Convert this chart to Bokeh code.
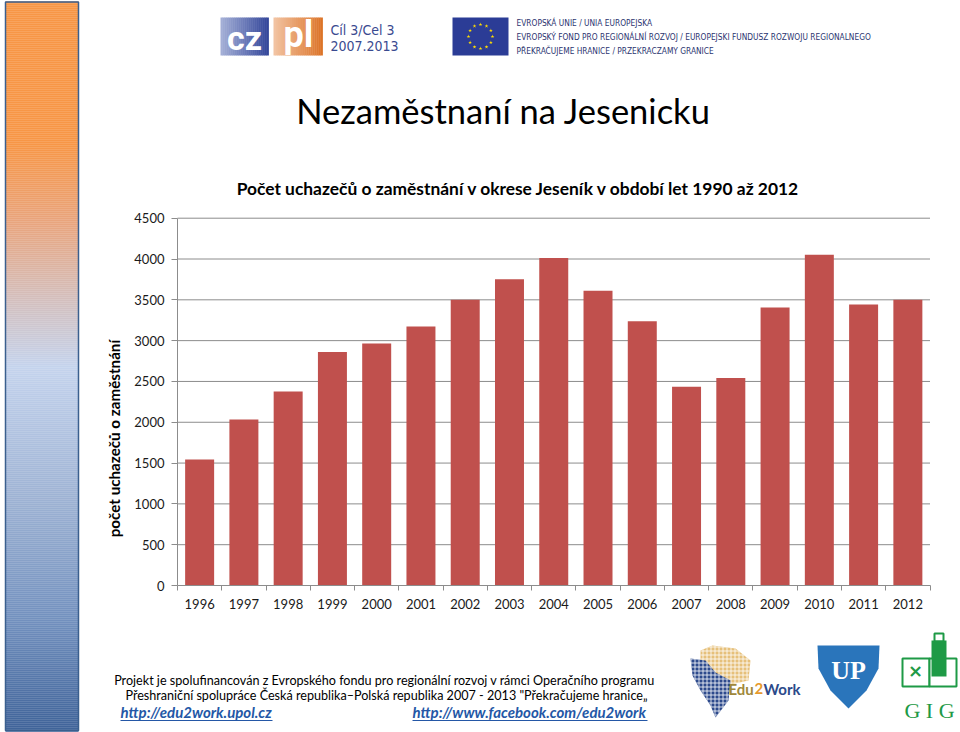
import math
from bokeh.plotting import figure
from bokeh.models import Range1d, LinearAxis, FixedTicker, Label
from bokeh.embed import file_html
from bokeh.resources import INLINE

# ---------------- data ----------------
YEARS = [1996, 1997, 1998, 1999, 2000, 2001, 2002, 2003, 2004,
         2005, 2006, 2007, 2008, 2009, 2010, 2011, 2012]
COUNTS = [1545, 2035, 2378, 2860, 2966, 3173, 3500, 3753, 4012,
          3611, 3237, 2435, 2542, 3405, 4053, 3442, 3500]
Y_TICKS = [0, 500, 1000, 1500, 2000, 2500, 3000, 3500, 4000, 4500]

TITLE = "Nezaměstnaní na Jesenicku"
CHART_TITLE = "Počet uchazečů o zaměstnání v okrese Jeseník v období let 1990 až 2012"
Y_LABEL = "počet uchazečů o zaměstnání"
FOOTER_1 = "Projekt je spolufinancován z Evropského fondu pro regionální rozvoj v rámci Operačního programu"
FOOTER_2 = "Přeshraniční spolupráce Česká republika–Polská republika 2007 - 2013 \"Překračujeme hranice„"
LINK_1 = "http://edu2work.upol.cz"
LINK_2 = "http://www.facebook.com/edu2work"
EU_LINES = ["EVROPSKÁ UNIE / UNIA EUROPEJSKA",
            "EVROPSKÝ FOND PRO REGIONÁLNÍ ROZVOJ / EUROPEJSKI FUNDUSZ ROZWOJU REGIONALNEGO",
            "PŘEKRAČUJEME HRANICE / PRZEKRACZAMY GRANICE"]

# ---------------- layout (page pixel positions) ----------------
W, H = 960, 732
X0, X1, Y0, Y1 = 0, 960, 0, 732
PL, PR, PB, PT = 177.0, 929.5, 585.0, 217.7
VMAX = 4500.0

ppy = (PR - PL) / len(YEARS)
yr_start = YEARS[0] - 0.5 - (PL - X0) / ppy
yr_end = YEARS[-1] + 0.5 + (X1 - PR) / ppy
ppv = (PB - PT) / VMAX
val_start = -(Y1 - PB) / ppv
val_end = VMAX + (PT - Y0) / ppv

FONT = "Lato"
COND = "DejaVu Sans Condensed, DejaVu Sans"
GRID = "#8C8C8C"

p = figure(width=W, height=H, x_range=Range1d(X0, X1), y_range=Range1d(Y1, Y0),
           x_axis_type=None, y_axis_type=None, min_border=0,
           min_border_left=0, min_border_right=0, min_border_top=0, min_border_bottom=0,
           toolbar_location=None, output_backend="svg", outline_line_color=None,
           background_fill_color="white", border_fill_color="white")
p.grid.visible = False
p.extra_x_ranges = {"yr": Range1d(yr_start, yr_end)}
p.extra_y_ranges = {"val": Range1d(val_start, val_end)}


def hex2rgb(h):
    h = h.lstrip("#")
    return tuple(int(h[i:i + 2], 16) for i in (0, 2, 4))


def interp(stops, t):
    for (a, ca), (b, cb) in zip(stops[:-1], stops[1:]):
        if a <= t <= b:
            f = 0 if b == a else (t - a) / (b - a)
            r1, g1, b1 = hex2rgb(ca)
            r2, g2, b2 = hex2rgb(cb)
            return "#%02x%02x%02x" % (round(r1 + (r2 - r1) * f), round(g1 + (g2 - g1) * f), round(b1 + (b2 - b1) * f))
    return stops[-1][1]


# ---------------- left sidebar gradient ----------------
side_stops = [(0, "#F79646"), (143, "#F79646"), (220, "#E9A47C"), (300, "#D3BFBE"),
              (367, "#C4D3ED"), (500, "#9DB2D3"), (620, "#7290BE"), (732, "#3E6298")]
tops, bots, cols = [], [], []
yy = 1.0
while yy < 730:
    tops.append(yy)
    bots.append(yy + 2.2)
    cols.append(interp(side_stops, yy + 1))
    yy += 2
p.quad(left=5, right=78, top=tops, bottom=bots, fill_color=cols, line_color=None)
p.quad(left=5, right=78, top=1.5, bottom=730, fill_color=None, line_color="#3A5F8E", line_width=1.5)

# ---------------- header logos ----------------
def hgrad(left, right, top, bottom, c1, c2, n=24):
    step = (right - left) / n
    ls = [left + i * step for i in range(n)]
    rs = [l + step + 0.4 for l in ls]
    cs = [interp([(0, c1), (1, c2)], i / (n - 1)) for i in range(n)]
    p.quad(left=ls, right=rs, top=top, bottom=bottom, fill_color=cs, line_color=None)

hgrad(220, 268, 17, 55, "#A3AED6", "#34479A")
hgrad(273, 322, 17, 55, "#F2C3A2", "#DC7428")
p.add_layout(Label(x=244, y=37, text="cz", text_align="center", text_baseline="middle",
                   text_font="Roboto", text_font_style="bold", text_font_size="34px", text_color="white"))
p.add_layout(Label(x=298, y=34, text="pl", text_align="center", text_baseline="middle",
                   text_font="Roboto", text_font_style="bold", text_font_size="36px", text_color="white"))
p.add_layout(Label(x=330, y=29, text="Cíl 3/Cel 3", text_align="left", text_baseline="middle",
                   text_font=COND, text_font_size="14px", text_color="#3A4A90"))
p.add_layout(Label(x=330, y=45, text="2007.2013", text_align="left", text_baseline="middle",
                   text_font=COND, text_font_size="14px", text_color="#3A4A90"))

# EU flag
p.quad(left=452, right=508, top=17, bottom=55, fill_color="#2B3C96", line_color=None)
sx = [480 + 12 * math.cos(2 * math.pi * k / 12) for k in range(12)]
sy = [36 + 12 * math.sin(2 * math.pi * k / 12) for k in range(12)]
p.scatter(sx, sy, marker="star", size=4, fill_color="#FFDD00", line_color=None)
for i, t in enumerate(EU_LINES):
    p.add_layout(Label(x=516, y=22 + 14 * i, text=t, text_align="left", text_baseline="middle",
                       text_font=COND, text_font_size="8.3px", text_color="#2B3470"))

# ---------------- titles ----------------
p.add_layout(Label(x=503, y=110, text=TITLE, text_align="center", text_baseline="middle",
                   text_font=FONT, text_font_size="34.5px", text_color="#000000"))
p.add_layout(Label(x=518, y=188, text=CHART_TITLE, text_align="center", text_baseline="middle",
                   text_font=FONT, text_font_style="bold", text_font_size="17.4px", text_color="#000000"))
p.add_layout(Label(x=113, y=438, text=Y_LABEL, angle=math.pi / 2, text_align="center",
                   text_baseline="middle", text_font=FONT, text_font_style="bold",
                   text_font_size="15.2px", text_color="#000000"))

# ---------------- chart ----------------
gt = Y_TICKS[1:]
p.segment(x0=[PL] * len(gt), x1=[PR] * len(gt), y0=gt, y1=gt, y_range_name="val",
          line_color=GRID, line_width=1)
p.vbar(x=YEARS, top=COUNTS, bottom=0, width=0.655, x_range_name="yr", y_range_name="val",
       fill_color="#C0504D", line_color=None)

yax = LinearAxis(y_range_name="val", fixed_location=PL, ticker=FixedTicker(ticks=Y_TICKS),
                 bounds=(0, VMAX), axis_line_color=GRID, major_tick_line_color=GRID,
                 major_tick_out=6, major_tick_in=0, minor_tick_line_color=None,
                 major_label_standoff=7, major_label_text_font=FONT,
                 major_label_text_font_size="13px", major_label_text_color="#1A1A1A")
p.add_layout(yax, "left")

bounds_ticks = [y - 0.5 for y in YEARS] + [YEARS[-1] + 0.5]
xax = LinearAxis(x_range_name="yr", y_range_name="val", fixed_location=0,
                 ticker=FixedTicker(ticks=YEARS, minor_ticks=bounds_ticks),
                 bounds=(YEARS[0] - 0.5, YEARS[-1] + 0.5), axis_line_color=GRID,
                 major_tick_line_color=None, major_tick_out=0, major_tick_in=0,
                 minor_tick_line_color=GRID, minor_tick_out=5, minor_tick_in=0,
                 major_label_standoff=8, major_label_text_font=FONT,
                 major_label_text_font_size="13px", major_label_text_color="#1A1A1A")
p.add_layout(xax, "below")

# ---------------- footer ----------------
p.add_layout(Label(x=384, y=680, text=FOOTER_1, text_align="center", text_baseline="middle",
                   text_font=FONT, text_font_size="12.6px", text_color="#000000"))
p.add_layout(Label(x=386, y=695, text=FOOTER_2, text_align="center", text_baseline="middle",
                   text_font=FONT, text_font_size="12.6px", text_color="#000000"))
LINK = "#2457A6"
p.add_layout(Label(x=120, y=711, text=LINK_1, text_align="left", text_baseline="middle",
                   text_font=FONT, text_font_style="bold italic", text_font_size="15px", text_color=LINK))
p.add_layout(Label(x=412, y=711, text=LINK_2, text_align="left", text_baseline="middle",
                   text_font=FONT, text_font_style="bold italic", text_font_size="15px", text_color=LINK))
p.segment(x0=[120, 412], x1=[272, 647], y0=[720, 720], y1=[720, 720], line_color=LINK, line_width=1)

# Edu2Work logo
p.patch([700, 712, 735, 750, 748, 730, 712, 700], [650, 645, 648, 660, 680, 684, 676, 665],
        fill_color="#E6C07A", line_color=None, hatch_pattern="cross", hatch_color="white",
        hatch_scale=4, hatch_weight=0.8)
p.patch([690, 705, 715, 730, 728, 715, 710, 700, 692], [658, 660, 672, 680, 700, 717, 705, 690, 675],
        fill_color="#2D4A8C", line_color=None, hatch_pattern="cross", hatch_color="white",
        hatch_scale=4, hatch_weight=0.8)
p.add_layout(Label(x=728, y=688, text="Edu", text_align="left", text_baseline="middle",
                   text_font=FONT, text_font_style="bold", text_font_size="15px", text_color="#A0883A"))
p.add_layout(Label(x=754, y=688, text="2", text_align="left", text_baseline="middle",
                   text_font=FONT, text_font_style="bold", text_font_size="15px", text_color="#E79A2C"))
p.add_layout(Label(x=763, y=688, text="Work", text_align="left", text_baseline="middle",
                   text_font=FONT, text_font_style="bold", text_font_size="15px", text_color="#2C4A8A"))

# UP shield
p.patch([817, 879, 878, 866, 848, 830, 818], [645, 645, 668, 690, 708, 690, 668],
        fill_color="#2A75BB", line_color=None)
p.add_layout(Label(x=848, y=670, text="UP", text_align="center", text_baseline="middle",
                   text_font="Liberation Serif", text_font_style="bold", text_font_size="26px",
                   text_color="white"))

# GIG logo
G = "#1E9A46"
p.quad(left=[902, 929], right=[929, 956], top=[658, 658], bottom=[686, 686],
       fill_color="white", line_color=G, line_width=2)
p.quad(left=931, right=946, top=640, bottom=676, fill_color=G, line_color=None)
p.quad(left=934, right=943, top=633, bottom=641, fill_color=None, line_color=G, line_width=2)
p.add_layout(Label(x=915, y=670, text="×", text_align="center", text_baseline="middle",
                   text_font="DejaVu Sans", text_font_style="bold", text_font_size="18px", text_color=G))
p.add_layout(Label(x=929, y=710, text="G I G", text_align="center", text_baseline="middle",
                   text_font="Liberation Serif", text_font_size="22px", text_color=G))

open("out.html", "w").write(file_html(p, INLINE))
